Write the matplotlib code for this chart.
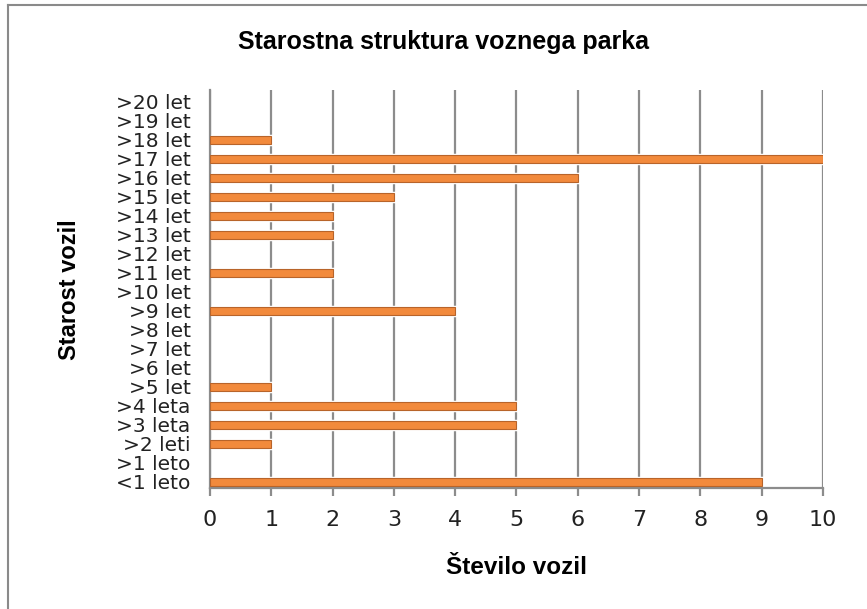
import matplotlib.pyplot as plt
from matplotlib.lines import Line2D

# data (bottom to top, as drawn)
categories = ["<1 leto", ">1 leto", ">2 leti", ">3 leta", ">4 leta", ">5 let", ">6 let",
              ">7 let", ">8 let", ">9 let", ">10 let", ">11 let", ">12 let", ">13 let",
              ">14 let", ">15 let", ">16 let", ">17 let", ">18 let", ">19 let", ">20 let"]
vehicles = [9, 0, 1, 5, 5, 1, 0, 0, 0, 4, 0, 2, 0, 2, 2, 3, 6, 10, 1, 0, 0]
xticks = [0, 1, 2, 3, 4, 5, 6, 7, 8, 9, 10]

fig = plt.figure(figsize=(8.67, 6.09), dpi=100)
ax = fig.add_axes([0.2422, 0.1987, 0.7070, 0.6535])

pos = range(len(categories))
# no outline for empty categories
halo = ['white' if v > 0 else 'none' for v in vehicles]
edge = ['#b8642a' if v > 0 else 'none' for v in vehicles]
# white halo cuts the gridlines around bars, then the bar itself
ax.barh(pos, vehicles, height=0.42, color='#f28a3c', edgecolor=halo, linewidth=2.5, zorder=2)
ax.barh(pos, vehicles, height=0.42, color='#f28a3c', edgecolor=edge, linewidth=0.8, zorder=3)

ax.set_xlim(0, 10)
ax.set_ylim(-0.32, 20.63)
ax.set_xticks(xticks)
ax.set_yticks(list(pos))
ax.set_yticklabels(categories)
ax.grid(axis='x', color='#8c8c8c', linewidth=1.6, zorder=1)
ax.set_axisbelow(True)

for s in ['top', 'right']:
    ax.spines[s].set_visible(False)
for s in ['left', 'bottom']:
    ax.spines[s].set_color('#8c8c8c')
    ax.spines[s].set_linewidth(1.6)

ax.tick_params(axis='x', length=6, width=1.6, color='#8c8c8c', pad=10, labelsize=16, labelcolor='#222222')
ax.tick_params(axis='y', length=0, pad=14, labelsize=14.5, labelcolor='#222222')

fig.text(0.512, 1 - 42/609, "Starostna struktura voznega parka", ha='center', va='center',
         fontsize=18, fontweight='bold', family='Liberation Sans')
fig.text(516/867, 1 - 567/609, "Število vozil", ha='center', va='center',
         fontsize=17.5, fontweight='bold', family='Liberation Sans')
fig.text(70/867, 1 - 290/609, "Starost vozil", ha='center', va='center', rotation=90,
         fontsize=17, fontweight='bold', family='Liberation Sans')

# chart frame (only top and left visible)
fig.add_artist(Line2D([8/867, 1], [1 - 5/609, 1 - 5/609], color='#8a8a8a', linewidth=1.5))
fig.add_artist(Line2D([8/867, 8/867], [0, 1 - 5/609], color='#8a8a8a', linewidth=1.5))

fig.savefig("out.png", dpi=100)
